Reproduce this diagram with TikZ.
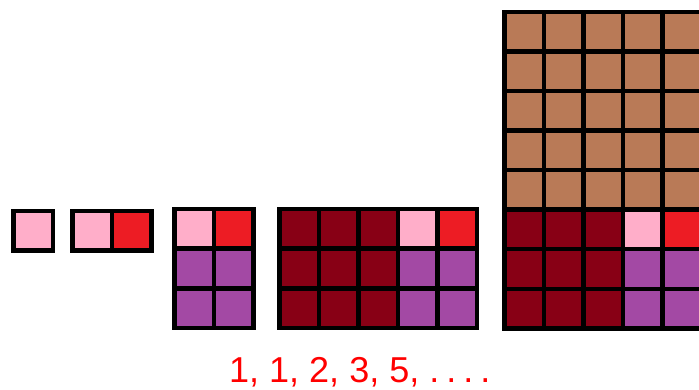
\documentclass[tikz,border=0pt]{standalone}
\usepackage{fontspec}
\setmainfont{Liberation Sans}
\definecolor{fpink}{RGB}{255,174,201}
\definecolor{fred}{RGB}{237,28,36}
\definecolor{fpurple}{RGB}{163,73,164}
\definecolor{fdark}{RGB}{136,0,21}
\definecolor{fbrown}{RGB}{185,122,87}
\newcommand{\fibgrid}[4]{\fill[black] (#1,#2) rectangle ++({(#3)*39.5+4.5},{(#4)*39.5+4.5});}
\newcommand{\fibcell}[5]{\fill[#5] ({#1+4.5+(#3)*39.5},{#2+4.5+(#4)*39.5}) rectangle ++(35,35);}
\newcommand{\fibthreefive}[3]{%
  \foreach \c in {0,1,2}{\foreach \r in {0,1,2}{\fibcell{#1}{#2}{\c}{\r+#3}{fdark}}}%
  \fibcell{#1}{#2}{3}{#3}{fpink}\fibcell{#1}{#2}{4}{#3}{fred}%
  \foreach \c in {3,4}{\foreach \r in {1,2}{\fibcell{#1}{#2}{\c}{\r+#3}{fpurple}}}}
\begin{document}
\begin{tikzpicture}[x=1pt,y=-1pt]
\useasboundingbox (0,0) rectangle (699,390);
\clip (0,0) rectangle (699,390);
% 1x1
\fibgrid{11}{209}{1}{1}
\fibcell{11}{209}{0}{0}{fpink}
% 1x2
\fibgrid{70}{209}{2}{1}
\fibcell{70}{209}{0}{0}{fpink}
\fibcell{70}{209}{1}{0}{fred}
% 2x3
\fibgrid{172}{207}{2}{3}
\fibcell{172}{207}{0}{0}{fpink}
\fibcell{172}{207}{1}{0}{fred}
\foreach \c in {0,1}{\foreach \r in {1,2}{\fibcell{172}{207}{\c}{\r}{fpurple}}}
% 3x5
\fibgrid{277}{207}{5}{3}
\fibthreefive{277}{207}{0}
% 5x8
\fibgrid{502}{10}{5}{8}
\foreach \c in {0,...,4}{\foreach \r in {0,...,4}{\fibcell{502}{10}{\c}{\r}{fbrown}}}
\fibthreefive{502}{10}{5}
% sequence
\node[text=red, font=\fontsize{36}{42}\selectfont, anchor=base west, inner sep=0pt] (seq) at (229,382) {1, 1, 2, 3, 5, .\hspace{7pt}.\hspace{7pt}.\hspace{7pt}.};
\end{tikzpicture}
\end{document}
